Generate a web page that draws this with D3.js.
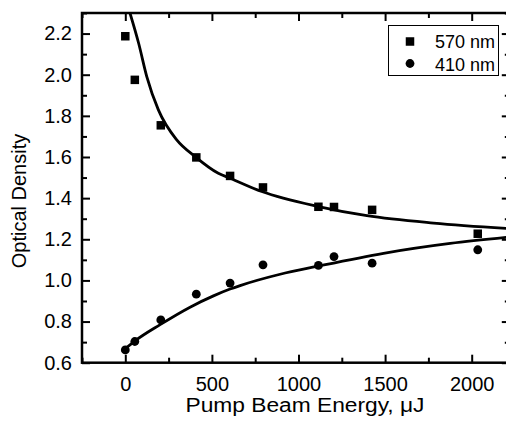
<!DOCTYPE html>
<html><head><meta charset="utf-8">
<script src="https://cdn.jsdelivr.net/npm/d3@7"></script>
<style>body{margin:0;background:#fff}svg{display:block}text{font-family:"Liberation Sans",Arial,sans-serif;fill:#000}</style>
</head><body>
<svg id="c" width="506" height="423"></svg>
<script>
const energy = [0, 55, 205, 410, 605, 795, 1115, 1205, 1425, 2035];
const od570 = [2.187, 1.975, 1.754, 1.598, 1.508, 1.452, 1.358, 1.357, 1.343, 1.227];
const od410 = [0.662, 0.703, 0.808, 0.933, 0.987, 1.076, 1.073, 1.116, 1.084, 1.149];
// Fit curves
const fit570X = [27, 77, 124, 191, 297, 403, 537, 605, 788, 1115, 1395, 1780, 2220];
const fit570Y = [2.30, 2.153, 1.991, 1.829, 1.683, 1.602, 1.521, 1.497, 1.432, 1.359, 1.315, 1.279, 1.252];
const fit410X = [0, 56, 201, 374, 509, 605, 663, 894, 1106, 1491, 1876, 2220];
const fit410Y = [0.668, 0.706, 0.785, 0.870, 0.925, 0.958, 0.975, 1.030, 1.068, 1.132, 1.180, 1.211];
const xTicks = [0, 500, 1000, 1500, 2000];
const yTicks = [0.6, 0.8, 1.0, 1.2, 1.4, 1.6, 1.8, 2.0, 2.2];
const legendLabels = ["570 nm", "410 nm"];

const svg = d3.select("#c");
const L = 82, R = 509.8, T = 13, B = 362.7;
const x = d3.scaleLinear().domain([-250, 2220]).range([L, R]);
const y = d3.scaleLinear().domain([0.6, 2.3]).range([B, T]);

svg.append("defs").append("clipPath").attr("id","pc")
  .append("rect").attr("x",L).attr("y",T).attr("width",R-L).attr("height",B-T);

const xMinor = d3.range(-250, 2221, 250);
const yMinor = d3.range(0.6, 2.31, 0.1).map(v=>+v.toFixed(2));
const yMinorOnly = yMinor.filter(v=>!yTicks.some(t=>Math.abs(t-v)<1e-6));
const xMinorOnly = xMinor.filter(v=>!xTicks.includes(v));

function styleAxis(g){
  g.select(".domain").remove();
  g.selectAll(".tick line").attr("stroke","#000").attr("stroke-width",2);
}
// bottom
const bx = svg.append("g").attr("transform",`translate(0,${B})`)
  .call(d3.axisBottom(x).tickValues(xTicks).tickFormat(d3.format("d")).tickSizeInner(-8).tickSizeOuter(0).tickPadding(14));
styleAxis(bx);
bx.selectAll("text").attr("font-size",20);
svg.append("g").attr("transform",`translate(0,${B})`)
  .call(d3.axisBottom(x).tickValues(xMinorOnly).tickFormat("").tickSizeInner(-5).tickSizeOuter(0)).call(styleAxis);
// top
svg.append("g").attr("transform",`translate(0,${T})`)
  .call(d3.axisTop(x).tickValues(xTicks).tickFormat("").tickSizeInner(-8).tickSizeOuter(0)).call(styleAxis);
svg.append("g").attr("transform",`translate(0,${T})`)
  .call(d3.axisTop(x).tickValues(xMinorOnly).tickFormat("").tickSizeInner(-5).tickSizeOuter(0)).call(styleAxis);
// left
const ly = svg.append("g").attr("transform",`translate(${L},0)`)
  .call(d3.axisLeft(y).tickValues(yTicks).tickFormat(d3.format(".1f")).tickSizeInner(-8).tickSizeOuter(0).tickPadding(10));
styleAxis(ly);
ly.selectAll("text").attr("font-size",20);
svg.append("g").attr("transform",`translate(${L},0)`)
  .call(d3.axisLeft(y).tickValues(yMinorOnly).tickFormat("").tickSizeInner(-5).tickSizeOuter(0)).call(styleAxis);
// right
svg.append("g").attr("transform",`translate(${R},0)`)
  .call(d3.axisRight(y).tickValues(yTicks).tickFormat("").tickSizeInner(-8).tickSizeOuter(0)).call(styleAxis);
svg.append("g").attr("transform",`translate(${R},0)`)
  .call(d3.axisRight(y).tickValues(yMinorOnly).tickFormat("").tickSizeInner(-5).tickSizeOuter(0)).call(styleAxis);

// frame
svg.append("rect").attr("x",L).attr("y",T).attr("width",R-L).attr("height",B-T)
  .attr("fill","none").attr("stroke","#000").attr("stroke-width",2.5);

// fit curves
const line = d3.line().x(d=>x(d[0])).y(d=>y(d[1])).curve(d3.curveMonotoneX);
const g = svg.append("g").attr("clip-path","url(#pc)");
g.append("path").datum(fit570X.map((v,i)=>[v,fit570Y[i]])).attr("d",line)
  .attr("fill","none").attr("stroke","#000").attr("stroke-width",2.8);
g.append("path").datum(fit410X.map((v,i)=>[v,fit410Y[i]])).attr("d",line)
  .attr("fill","none").attr("stroke","#000").attr("stroke-width",2.8);

// markers
const sq = 8.5;
g.selectAll("rect.s").data(energy.map((v,i)=>[v,od570[i]])).join("rect")
  .attr("x",d=>x(d[0])-sq/2).attr("y",d=>y(d[1])-sq/2).attr("width",sq).attr("height",sq).attr("fill","#000");
g.selectAll("circle.c").data(energy.map((v,i)=>[v,od410[i]])).join("circle")
  .attr("cx",d=>x(d[0])).attr("cy",d=>y(d[1])).attr("r",4.4).attr("fill","#000");

// legend
svg.append("rect").attr("x",388.5).attr("y",25.5).attr("width",110).attr("height",50)
  .attr("fill","#fff").attr("stroke","#000").attr("stroke-width",1);
svg.append("rect").attr("x",410-4.25).attr("y",41.5-4.25).attr("width",8.5).attr("height",8.5).attr("fill","#000");
svg.append("circle").attr("cx",410).attr("cy",63.5).attr("r",4.4).attr("fill","#000");
svg.append("text").attr("x",435).attr("y",48).attr("font-size",18).text(legendLabels[0]);
svg.append("text").attr("x",435).attr("y",70.5).attr("font-size",18).text(legendLabels[1]);

// axis titles
svg.append("text").attr("x",305).attr("y",412).attr("text-anchor","middle").attr("font-size",20)
  .attr("textLength",239).attr("lengthAdjust","spacingAndGlyphs").text("Pump Beam Energy, μJ");
svg.append("text").attr("transform","translate(26,201) rotate(-90)").attr("text-anchor","middle")
  .attr("font-size",20).text("Optical Density");
</script>
</body></html>
